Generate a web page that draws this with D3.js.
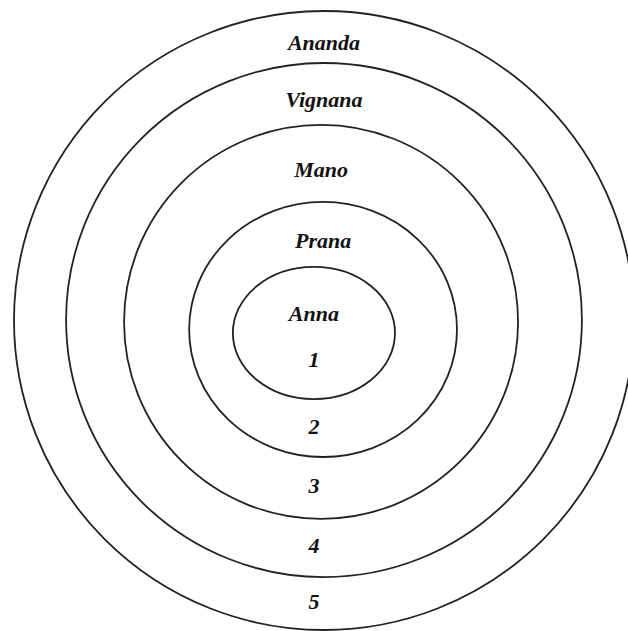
<!DOCTYPE html>
<html>
<head>
<meta charset="utf-8">
<script src="https://cdn.jsdelivr.net/npm/d3@7"></script>
<style>
  body { margin: 0; background: #fff; }
  .label { font-family: "Liberation Serif", "Times New Roman", serif; font-weight: bold; font-style: italic; font-size: 22px; fill: #111; }
</style>
</head>
<body>
<div id="graph"></div>
<script>
// layers from inner to outer
let layers = ["Anna", "Prana", "Mano", "Vignana", "Ananda"];
let levels = ["1", "2", "3", "4", "5"];
// ring extents in diagram units (outer ring = -1..1)
let ringLeft   = [-0.294, -0.435, -0.645, -0.832, -1];
let ringRight  = [ 0.229,  0.429,  0.626,  0.832,  1];
let ringTop    = [-0.173, -0.383, -0.632, -0.832, -1];
let ringBottom = [ 0.254,  0.441,  0.641,  0.829,  1];

function graph() {
  let w = 628;
  let h = 631;

  const xScale = d3.scaleLinear().domain([-1, 1]).range([14, 634]);
  const yScale = d3.scaleLinear().domain([-1, 1]).range([11, 630]);

  const svg = d3.select("#graph")
                .append("svg")
                .attr("width", w)
                .attr("height", h);

  let rings = layers.map((name, i) => {
    let l = xScale(ringLeft[i]), r = xScale(ringRight[i]);
    let t = yScale(ringTop[i]), b = yScale(ringBottom[i]);
    return { name: name, level: levels[i], cx: (l + r) / 2, cy: (t + b) / 2, rx: (r - l) / 2, ry: (b - t) / 2, top: t, bottom: b };
  });

  // draw outer first so inner sits on top
  svg.selectAll("ellipse")
     .data(rings.slice().reverse())
     .enter()
     .append("ellipse")
     .attr("cx", d => d.cx)
     .attr("cy", d => d.cy)
     .attr("rx", d => d.rx)
     .attr("ry", d => d.ry)
     .attr("fill", "none")
     .attr("stroke", "#222")
     .attr("stroke-width", 1.8);

  // names in the upper band of each ring
  svg.selectAll(".name")
     .data(rings)
     .enter()
     .append("text")
     .attr("class", "label name")
     .attr("text-anchor", "middle")
     .attr("dominant-baseline", "central")
     .attr("x", d => d.cx)
     .attr("y", (d, i) => i === 0 ? d.top + (d.cy - d.top) * 0.7 : (d.top + rings[i - 1].top) / 2 + 6)
     .text(d => d.name);

  // numbers in the lower band of each ring
  svg.selectAll(".num")
     .data(rings)
     .enter()
     .append("text")
     .attr("class", "label num")
     .attr("text-anchor", "middle")
     .attr("dominant-baseline", "central")
     .attr("x", rings[0].cx)
     .attr("y", (d, i) => i === 0 ? d.cy + (d.bottom - d.cy) * 0.4 : (d.bottom + rings[i - 1].bottom) / 2 - 2)
     .text(d => d.level);
}

graph();
</script>
</body>
</html>
